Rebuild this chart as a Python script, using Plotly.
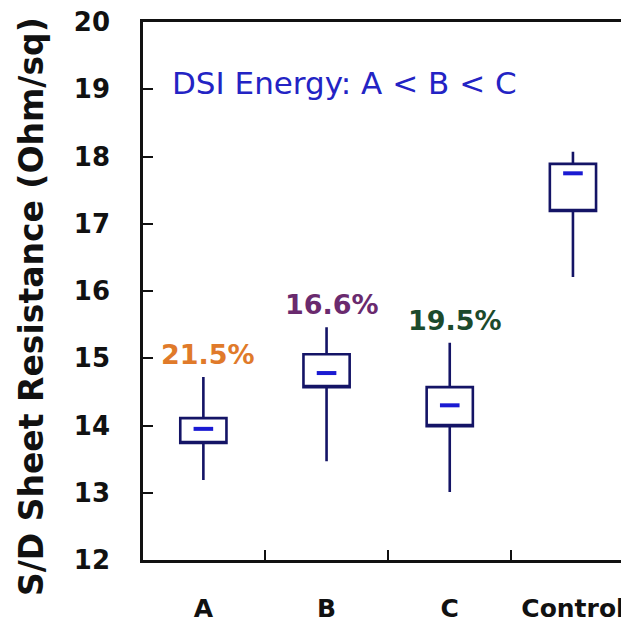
import plotly.graph_objects as go

categories = ["A", "B", "C", "Control"]
lower_whisker = [13.19, 13.47, 13.01, 16.21]
q1 = [13.74, 14.57, 13.99, 17.19]
median = [13.95, 14.78, 14.30, 17.75]
q3 = [14.11, 15.06, 14.57, 17.89]
upper_whisker = [14.72, 15.46, 15.23, 18.07]

pct_categories = ["A", "B", "C"]
pct_labels = ["21.5%", "16.6%", "19.5%"]
pct_colors = ["#e07a2a", "#6a2a6e", "#1c4a2c"]

y_ticks = [12, 13, 14, 15, 16, 17, 18, 19, 20]

FONT = "DejaVu Sans"

fig = go.Figure()

fig.add_trace(go.Box(
    x=categories,
    q1=q1,
    median=q1,  # median drawn separately as a short dash
    q3=q3,
    lowerfence=lower_whisker,
    upperfence=upper_whisker,
    width=0.375,
    whiskerwidth=0,
    line=dict(color="#141466", width=2.6),
    fillcolor="rgba(255,255,255,0)",
    boxpoints=False,
    showlegend=False,
    hoverinfo="skip",
))

fig.add_trace(go.Scatter(
    x=categories,
    y=median,
    mode="markers",
    marker=dict(symbol="line-ew", size=14,
                line=dict(color="#1a1ad2", width=4)),
    showlegend=False,
    hoverinfo="skip",
))

for c, lab, col, top in zip(pct_categories, pct_labels, pct_colors, upper_whisker):
    fig.add_annotation(
        x=c, y=top, xref="x", yref="y",
        text=f"<b>{lab}</b>", showarrow=False,
        yanchor="bottom", yshift=5, xshift=5,
        font=dict(family=FONT, size=27, color=col),
    )

fig.add_annotation(
    x=0.055, y=0.887, xref="paper", yref="paper",
    text="DSI Energy: A &lt; B &lt; C", showarrow=False,
    xanchor="left", yanchor="middle",
    font=dict(family=FONT, size=31, color="#2323c4"),
)

fig.add_annotation(
    x=0, y=0.5, xref="paper", yref="paper",
    text="<b>S/D Sheet Resistance (Ohm/sq)</b>", showarrow=False,
    textangle=-90, xanchor="center", yanchor="middle",
    xshift=-112, yshift=-16,
    font=dict(family=FONT, size=33, color="#111111"),
)

# page has an 8px body margin: figure sized 621x620 so it fills the 629x628 window
fig.update_layout(
    width=621, height=620,
    margin=dict(l=135, r=0, t=14, b=68),
    paper_bgcolor="white", plot_bgcolor="white",
    font=dict(family=FONT, color="#111111"),
)

fig.update_xaxes(
    type="category", range=[-0.49, 3.455], automargin=False,
    tickson="boundaries", ticks="inside", ticklen=10, tickwidth=2,
    tickcolor="#111111",
    showline=True, linecolor="#111111", linewidth=2.6, mirror=True,
    showgrid=False, zeroline=False,
    tickfont=dict(family=FONT, size=25, color="#111111", weight="bold"),
    ticklabelstandoff=24, ticklabeloverflow="allow",
)

fig.update_yaxes(
    range=[12, 20], tickvals=y_ticks, automargin=False,
    ticks="inside", ticklen=10, tickwidth=2, tickcolor="#111111",
    showline=True, linecolor="#111111", linewidth=2.6, mirror=False,
    showgrid=False, zeroline=False,
    tickfont=dict(family=FONT, size=26, color="#111111", weight="bold"),
    ticklabelstandoff=25, ticklabeloverflow="allow",
)

fig.write_html("out.html")
